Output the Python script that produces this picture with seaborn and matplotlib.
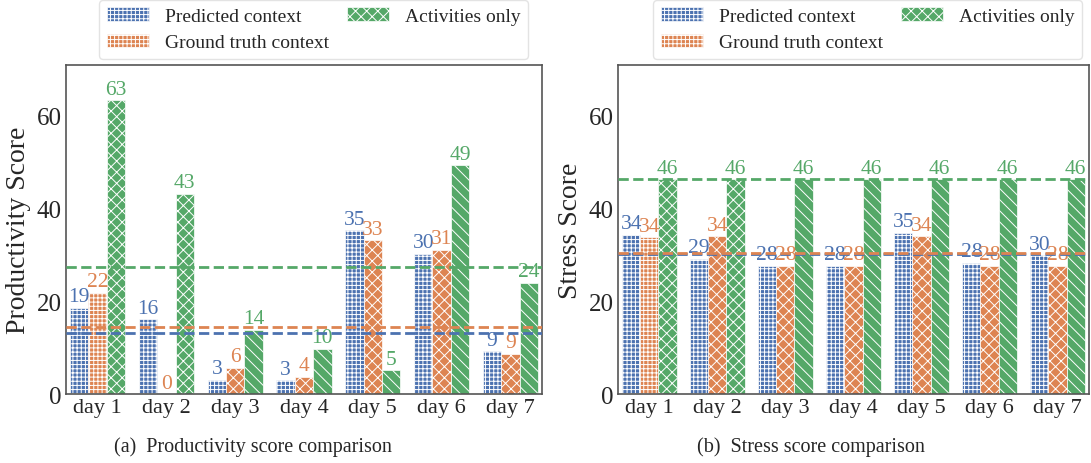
import numpy as np
import pandas as pd
import seaborn as sns
import matplotlib.pyplot as plt
from matplotlib.patches import Patch

days = ['day 1', 'day 2', 'day 3', 'day 4', 'day 5', 'day 6', 'day 7']
series = ['Predicted context', 'Ground truth context', 'Activities only']

prod_pred = [18.6, 16.2, 3.1, 3.0, 35.4, 30.3, 9.3]
prod_truth = [21.9, 0.0, 5.7, 3.7, 33.2, 31.1, 8.7]
prod_act = [63.4, 43.2, 13.9, 9.8, 5.1, 49.4, 24.0]
prod_lines = [13.2, 14.5, 27.4]

stress_pred = [34.4, 29.2, 27.7, 27.7, 34.8, 28.3, 30.0]
stress_truth = [33.9, 34.1, 27.7, 27.7, 34.1, 27.7, 27.7]
stress_act = [46.4, 46.4, 46.4, 46.4, 46.4, 46.4, 46.4]
stress_lines = [30.3, 30.4, 46.4]

yticks = [0, 20, 40, 60]

palette = ['#4C72B0', '#DD8452', '#55A868']
hatch_pred = ['++++'] * 7
hatch_truth = ['++++'] + ['xxx'] * 6
hatch_act = ['xxx', 'xxx'] + ['\\\\\\'] * 5
hatches = [hatch_pred, hatch_truth, hatch_act]
legend_hatches = ['++++', '++++', 'xxx']

sns.set_theme(style='white')
plt.rcParams['font.family'] = ['Liberation Serif', 'DejaVu Serif']
plt.rcParams['hatch.linewidth'] = 0.7

fig = plt.figure(figsize=(10.91, 4.64), dpi=100)
ax1 = fig.add_axes([0.0605, 0.1487, 0.4363, 0.7091])
ax2 = fig.add_axes([0.5665, 0.1487, 0.4315, 0.7091])


def draw(ax, vals, lines, ylabel, leg_x):
    df = pd.DataFrame({
        'day': days * 3,
        'series': sum([[s] * len(days) for s in series], []),
        'score': vals[0] + vals[1] + vals[2],
    })
    sns.barplot(data=df, x='day', y='score', hue='series', hue_order=series,
                palette=palette, saturation=1, width=0.8, errorbar=None,
                edgecolor='white', linewidth=0.5, legend=False, ax=ax)
    for i, cont in enumerate(ax.containers):
        for bar, h in zip(cont.patches, hatches[i]):
            bar.set_hatch(h)
        ax.bar_label(cont, labels=[f'{v:.0f}' for v in vals[i]],
                     color=palette[i], fontsize=15.5, padding=1)
    for i, lv in enumerate(lines):
        ax.axhline(lv, color=palette[i], linestyle='--', linewidth=2, zorder=5)
    ax.set_xlim(-0.46, 6.46)
    ax.set_ylim(0, 71)
    ax.set_yticks(yticks)
    ax.set_xlabel('')
    ax.set_ylabel(ylabel, fontsize=20, labelpad=4)
    ax.tick_params(axis='x', labelsize=16, length=0, pad=3)
    ax.tick_params(axis='y', labelsize=18, length=0, pad=3)
    for sp in ax.spines.values():
        sp.set_color('#555555')
        sp.set_linewidth(1.2)
    handles = [Patch(facecolor=palette[i], edgecolor='white', hatch=legend_hatches[i],
                     linewidth=0.5) for i in range(3)]
    leg = ax.legend(handles, series, ncol=2, loc='lower center',
                    bbox_to_anchor=(leg_x, 1.0), fontsize=14, frameon=True,
                    handlelength=2.2, handletextpad=0.8, columnspacing=0.9,
                    borderaxespad=0.3, labelspacing=0.45)
    leg.get_frame().set_edgecolor('#dddddd')


draw(ax1, [prod_pred, prod_truth, prod_act], prod_lines, 'Productivity Score', 0.52)
draw(ax2, [stress_pred, stress_truth, stress_act], stress_lines, 'Stress Score', 0.53)

fig.text(0.232, 0.037, '(a)  Productivity score comparison', ha='center', va='center', fontsize=14.5)
fig.text(0.743, 0.037, '(b)  Stress score comparison', ha='center', va='center', fontsize=14.5)

fig.savefig('out.png', dpi=100)
